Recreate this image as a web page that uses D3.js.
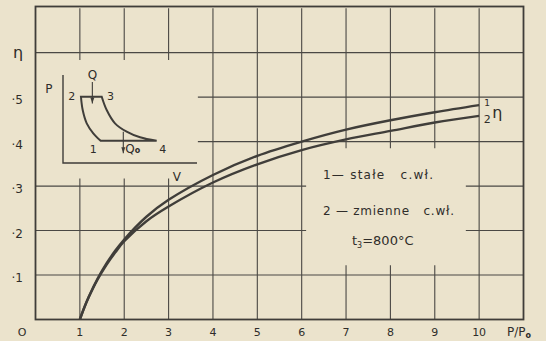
<!DOCTYPE html>
<meta charset="utf-8">
<title>sprawnosc - P/Po</title>
<style>
body {
  margin: 0px;
  background-color: #ebe3cc;
}
svg text {
  font-family: "DejaVu Sans", sans-serif;
  fill: #2f2d2a;
  white-space: pre;
}
path.curve {
  fill: none;
  stroke: #403e3a;
  stroke-width: 2.4;
}
line.grid {
  stroke: #4a4844;
  stroke-width: 1.1;
}
</style>
<script src="https://d3js.org/d3.v7.min.js"></script>
<body>
<script>
var width = 546, height = 341;

// ratio P/Po and efficiency eta
var ratio = [1, 1.1, 1.2, 1.4, 1.6, 1.8, 2, 2.5, 3, 4, 5, 6, 7, 8, 9, 10];
var eta1  = [0, 0.027, 0.051, 0.092, 0.126, 0.155, 0.180, 0.231, 0.269, 0.325, 0.368, 0.400, 0.427, 0.448, 0.466, 0.482];
var eta2  = [0, 0.027, 0.050, 0.090, 0.123, 0.151, 0.176, 0.221, 0.254, 0.308, 0.349, 0.381, 0.405, 0.424, 0.443, 0.458];

var xTicks = [1, 2, 3, 4, 5, 6, 7, 8, 9, 10];
var yTicks = [0.1, 0.2, 0.3, 0.4, 0.5, 0.6];
var yLabels = ["·1", "·2", "·3", "·4", "·5", ""];

// small P-V inset (arbitrary units), compression 1->2 and expansion 3->4
var compV = [2.81, 2.26, 1.77, 1.47, 1.34];
var compP = [2.53, 3.38, 4.51, 6.02, 7.53];
var expV  = [2.89, 3.26, 3.88, 4.75, 5.75, 6.99];
var expP  = [7.53, 6.02, 4.51, 3.56, 2.92, 2.53];

var legend = ["1— stałe   c.wł.", "2 — zmienne   c.wł."];

var svg = d3.select("body").append("svg")
    .attr("width", width)
    .attr("height", height);

var x = d3.scaleLinear().domain([0, 11]).range([35.5, 523.5]);
var y = d3.scaleLinear().domain([0, 0.7]).range([319.5, 8.2]);

var grid = svg.append("g");

// vertical grid lines, some broken around the inset and the legend
function vSegs(t) {
  if (t <= 3) return [[0.7, 0.6 - 0.0165], [0.317, 0]];
  if (t >= 7 && t <= 9) return [[0.7, 0.385], [0.122, 0]];
  return [[0.7, 0]];
}
xTicks.forEach(function(t) {
  vSegs(t).forEach(function(s) {
    grid.append("line").attr("class", "grid")
      .attr("x1", x(t)).attr("x2", x(t))
      .attr("y1", y(s[0])).attr("y2", y(s[1]));
  });
});
// horizontal grid lines
function hSegs(v) {
  if (v == 0.4 || v == 0.5) return [[3.66, 11]];
  if (v == 0.2 || v == 0.3) return [[0, 6.1], [9.7, 11]];
  return [[0, 11]];
}
yTicks.forEach(function(v) {
  hSegs(v).forEach(function(s) {
    grid.append("line").attr("class", "grid")
      .attr("x1", x(s[0])).attr("x2", x(s[1]))
      .attr("y1", y(v)).attr("y2", y(v));
  });
});

// frame
svg.append("rect")
  .attr("x", x(0)).attr("y", 6.5)
  .attr("width", x(11) - x(0)).attr("height", y(0) - 6.5)
  .attr("fill", "none").attr("stroke", "#3f3d39").attr("stroke-width", 1.8);

// the two curves
var line = d3.line()
    .x(function(d) { return x(d[0]); })
    .y(function(d) { return y(d[1]); })
    .curve(d3.curveCatmullRom);
[eta1, eta2].forEach(function(e) {
  svg.append("path").attr("class", "curve")
    .attr("d", line(ratio.map(function(r, i) { return [r, e[i]]; })));
});

// tick labels
svg.selectAll("text.xt").data(xTicks).enter().append("text")
  .attr("class", "xt")
  .attr("x", function(d) { return x(d); })
  .attr("y", 336)
  .attr("text-anchor", "middle")
  .style("font-size", "11px")
  .text(function(d) { return d; });
svg.append("text").attr("x", 22).attr("y", 336).attr("text-anchor", "middle")
  .style("font-size", "11px").text("O");
var pp = svg.append("text").attr("x", 507).attr("y", 336).style("font-size", "12px");
pp.append("tspan").text("P/P");
pp.append("tspan").attr("dy", 2).style("font-size", "8px").style("font-weight", "bold").text("o");

svg.selectAll("text.yt").data(yTicks).enter().append("text")
  .attr("class", "yt")
  .attr("x", 23)
  .attr("y", function(d) { return y(d) + 7; })
  .attr("text-anchor", "end")
  .style("font-size", "12px")
  .text(function(d, i) { return yLabels[i]; });
svg.append("text").attr("x", 18).attr("y", 58).attr("text-anchor", "middle")
  .style("font-size", "16px").text("η");

// curve end labels
svg.append("text").attr("x", x(10) + 8).attr("y", y(eta1[15]) + 1)
  .attr("text-anchor", "middle").style("font-size", "9px").text("1");
svg.append("text").attr("x", x(10) + 8).attr("y", y(eta2[15]) + 7)
  .attr("text-anchor", "middle").style("font-size", "11px").text("2");
svg.append("text").attr("x", x(10) + 13).attr("y", y(eta2[15]) + 2)
  .style("font-size", "16px").text("η");

// legend
svg.append("text").attr("x", 323).attr("y", 178.5)
  .attr("textLength", 110).attr("lengthAdjust", "spacing")
  .style("font-size", "12px").text(legend[0]);
svg.append("text").attr("x", 323).attr("y", 215)
  .attr("textLength", 131).attr("lengthAdjust", "spacing")
  .style("font-size", "12px").text(legend[1]);
var t3 = svg.append("text").attr("x", 352).attr("y", 245).style("font-size", "13px");
t3.append("tspan").text("t");
t3.append("tspan").attr("dy", 3).style("font-size", "8px").text("3");
t3.append("tspan").attr("dy", -3).text("=800°C");

// inset P-V diagram
var vx = d3.scaleLinear().domain([0, 10]).range([63, 197]);
var py = d3.scaleLinear().domain([0, 10]).range([163, 75]);
var inset = svg.append("g");
inset.append("path")
  .attr("d", "M" + vx(0) + "," + py(10) + "V" + py(0) + "H" + vx(10))
  .attr("fill", "none").attr("stroke", "#3f3d39").attr("stroke-width", 1.4);

var pline = d3.line()
    .x(function(d) { return vx(d[0]); })
    .y(function(d) { return py(d[1]); })
    .curve(d3.curveCatmullRom);
var comp = compV.map(function(v, i) { return [v, compP[i]]; });
var exp = expV.map(function(v, i) { return [v, expP[i]]; });
inset.append("path").attr("class", "curve").style("stroke-width", 2)
  .attr("d", pline(comp) + pline(exp).replace(/^M/, "L") + "Z");

// heat arrows
function arrow(v, p0, p1) {
  inset.append("line").attr("x1", vx(v)).attr("x2", vx(v))
    .attr("y1", py(p0)).attr("y2", py(p1))
    .attr("stroke", "#3f3d39").attr("stroke-width", 1.1);
  inset.append("path")
    .attr("d", "M" + (vx(v) - 2) + "," + (py(p1) - 6) + "L" + (vx(v) + 2) + "," + (py(p1) - 6) +
      "L" + vx(v) + "," + py(p1) + "Z")
    .attr("fill", "#3f3d39");
}
arrow(2.19, 9.2, 6.75);
arrow(4.5, 3.56, 1.1);

function ilabel(txt, v, p, size) {
  return inset.append("text").attr("x", vx(v)).attr("y", py(p))
    .attr("text-anchor", "middle").style("font-size", size + "px").text(txt);
}
ilabel("Q", 2.2, 9.55, 12);
ilabel("P", -1.05, 7.9, 12);
ilabel("2", 0.65, 7.15, 11);
ilabel("3", 3.55, 7.15, 11);
ilabel("1", 2.26, 1.15, 11);
ilabel("4", 7.45, 1.15, 11);
ilabel("V", 8.5, -2.1, 12);
var q0 = inset.append("text").attr("x", vx(4.65)).attr("y", py(1.15)).style("font-size", "12px");
q0.append("tspan").text("Q");
q0.append("tspan").style("font-size", "8px").style("font-weight", "bold").text("o");
</script>
